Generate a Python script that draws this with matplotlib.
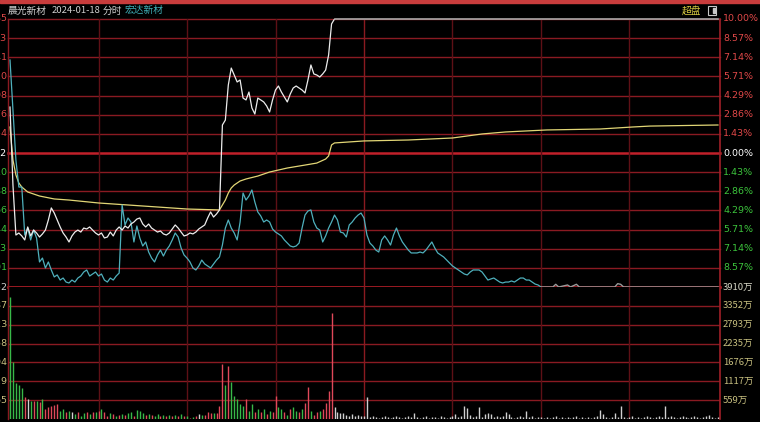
import matplotlib.pyplot as plt
from matplotlib.patches import Rectangle

# 晨光新材 2024-01-18 分时, 昨收 15.32, 对比 宏达新材
# 涨跌幅(%) 按分钟, 0 = 9:30, 120 = 11:30/13:00, 240 = 15:00
price_pct = [
    3.43, -2.39, -6.12, -5.97, -6.19, -6.49, -5.52, -6.19, -5.75, -5.97,
    -6.27, -6.04, -5.75, -5.00, -4.10, -4.48, -5.00, -5.52, -5.97, -6.27,
    -6.64, -6.19, -5.90, -5.75, -5.90, -5.60, -5.67, -5.52, -5.75, -5.97,
    -6.12, -5.97, -6.34, -6.27, -5.90, -6.19, -5.75, -5.52, -5.75, -5.45,
    -5.60, -5.30, -5.15, -4.93, -4.85, -5.30, -5.52, -5.30, -5.60, -5.75,
    -5.90, -5.82, -6.04, -6.12, -5.97, -5.67, -5.37, -5.60, -5.90, -6.19,
    -6.12, -5.97, -6.04, -5.90, -5.67, -5.52, -5.37, -4.85, -4.40, -4.78,
    -4.55, -4.25, 2.09, 2.46, 5.07, 6.34, 5.82, 5.30, 5.45, 4.10,
    3.96, 4.55, 3.36, 2.91, 4.10, 3.96, 3.81, 3.51, 3.06, 3.96,
    4.70, 5.00, 4.55, 4.18, 3.81, 4.40, 4.85, 5.00, 4.85, 4.70,
    4.48, 5.45, 6.57, 5.90, 5.82, 5.67, 5.90, 6.19, 7.31, 9.63,
    10.00,
]
limit_up_min = [110, 240]
limit_up_pct = [10.00, 10.00]

avg_min = [0, 1, 2, 3, 4, 6, 10, 15, 20, 30, 40, 50, 60, 71, 72, 73, 74, 75,
           76, 78, 80, 84, 88, 94, 100, 104, 107, 108, 109, 110, 120, 135,
           150, 160, 168, 182, 200, 211, 217, 240]
avg_pct = [1.94, -0.52, -1.64, -2.24, -2.54, -2.91, -3.21, -3.43, -3.51,
           -3.73, -3.88, -4.03, -4.18, -4.25, -3.88, -3.51, -2.99, -2.61,
           -2.39, -2.09, -1.94, -1.72, -1.42, -1.12, -0.90, -0.75, -0.45,
           -0.22, 0.60, 0.75, 0.90, 0.97, 1.12, 1.42, 1.57, 1.72, 1.79,
           1.94, 2.01, 2.09]

hd_pct = [
    6.94, 3.21, -0.52, -2.54, -2.54, -6.12, -5.60, -6.49, -5.75, -6.34,
    -8.13, -7.84, -8.58, -8.13, -8.73, -9.25, -9.10, -9.48, -9.33, -9.63,
    -9.70, -9.48, -9.63, -9.33, -9.18, -8.88, -8.73, -9.18, -9.03, -8.88,
    -9.18, -9.03, -9.48, -9.63, -9.33, -9.48, -9.18, -8.96, -3.88, -5.37,
    -4.85, -5.15, -6.64, -5.45, -6.34, -6.94, -6.64, -7.39, -7.84, -8.13,
    -7.61, -7.24, -7.69, -7.24, -6.94, -6.49, -5.97, -6.27, -7.09, -7.61,
    -7.84, -8.13, -8.58, -8.73, -8.43, -7.99, -8.28, -8.43, -8.58, -8.28,
    -7.99, -7.76, -6.87, -5.60, -5.00, -5.60, -5.97, -6.49, -5.15, -2.99,
    -3.51, -3.21, -2.76, -3.66, -4.40, -4.70, -5.15, -5.00, -5.15, -5.67,
    -5.90, -6.04, -6.19, -6.49, -6.72, -6.94, -7.01, -6.94, -6.72, -5.60,
    -4.63, -4.33, -4.25, -5.15, -5.60, -5.75, -6.64, -6.19, -5.60, -5.15,
    -4.63, -5.00, -5.90, -5.97, -6.27, -5.37, -5.15, -4.85, -4.63, -4.48,
    -4.85, -6.12, -6.72, -6.94, -7.24, -7.39, -6.49, -6.19, -6.49, -6.87,
    -6.12, -5.60, -6.19, -6.64, -6.94, -7.24, -7.46, -7.46, -7.46, -7.39,
    -7.46, -7.24, -6.94, -6.64, -7.09, -7.46, -7.61, -7.76, -7.99, -8.21,
    -8.43, -8.58, -8.73, -8.88, -9.03, -9.10, -8.88, -8.73, -8.73, -8.73,
    -8.88, -9.18, -9.48, -9.40, -9.33, -9.48, -9.63, -9.70, -9.63, -9.63,
    -9.55, -9.63, -9.48, -9.33, -9.33, -9.48, -9.48, -9.63, -9.78, -9.85,
    -10.00,
]
hd_limit_min = [180, 184, 185, 186, 189, 190, 192, 193, 205, 206, 207, 208, 240]
hd_limit_pct = [-10.00, -10.00, -9.80, -10.00, -9.85, -10.00, -9.80, -10.00,
                -10.00, -9.75, -9.80, -10.00, -10.00]

# 成交量(万), 每分钟
volume = [
    3620, 1700, 1060, 1000, 910, 650, 590, 530, 520, 530,
    500, 590, 300, 350, 380, 410, 440, 240, 290, 210,
    240, 200, 150, 200, 90, 180, 200, 150, 210, 200,
    240, 290, 200, 90, 180, 150, 90, 120, 150, 120,
    180, 210, 90, 260, 240, 180, 120, 150, 120, 90,
    150, 90, 120, 90, 120, 90, 120, 90, 150, 90,
    90, 30, 60, 90, 150, 120, 120, 200, 180, 180,
    180, 380, 1620, 1000, 1560, 1090, 680, 590, 440, 380,
    590, 240, 440, 210, 290, 200, 290, 150, 240, 200,
    680, 350, 290, 200, 120, 290, 350, 240, 200, 290,
    470, 940, 240, 120, 200, 240, 290, 470, 820, 3150,
    350, 200, 180, 180, 120, 90, 150, 90, 120, 90,
    90, 650, 60, 90, 60, 30, 60, 90, 60, 30,
    60, 90, 60, 30, 60, 90, 60, 180, 60, 30,
    60, 90, 30, 60, 60, 30, 90, 60, 30, 60,
    90, 150, 60, 90, 380, 320, 120, 60, 90, 350,
    60, 150, 180, 150, 60, 90, 60, 90, 200, 150,
    60, 30, 60, 90, 60, 240, 60, 90, 30, 60,
    60, 30, 60, 30, 60, 90, 30, 60, 30, 60,
    30, 60, 90, 30, 60, 30, 60, 30, 60, 90,
    260, 150, 60, 30, 60, 180, 60, 380, 60, 30,
    60, 90, 30, 60, 30, 60, 90, 60, 30, 60,
    90, 60, 380, 60, 90, 60, 30, 60, 90, 60,
    30, 60, 90, 60, 30, 60, 90, 120, 60, 30,
    60,
]
vol_color = ("ggggg" "rwgrgrg" "rrrrr" "ggrgw" "grggrgrgrg" "rrgrgrgrgg"
             "rgggrgrggr" "grgrgrgr" "grgrwgrrrg" "rrrgrggggg" "rggrgrgrgr"
             "rggrgrggrg" "rrgrrgrrrr") + "w" * 131

pct_levels = [10.00, 8.57, 7.14, 5.71, 4.29, 2.86, 1.43, 0.00,
              -1.43, -2.86, -4.29, -5.71, -7.14, -8.57, -10.00]
price_labels = ["16.85", "16.63", "16.41", "16.20", "15.98", "15.76", "15.54",
                "15.32", "15.10", "14.88", "14.66", "14.44", "14.23", "14.01"]
vol_levels = [3910, 3352, 2793, 2235, 1676, 1117, 559]
vol_left = ["6052", "5187", "4323", "3458", "2594", "1729", "865"]

# 标题 (文字, 左边像素位置, 颜色)
title_parts = [("晨光新材", 8, "#cfcfcf"), ("2024-01-18", 52, "#cfcfcf"),
               ("分时", 103, "#cfcfcf"), ("宏达新材", 125, "#3fb0b8")]

BG = "black"
GRID = "#8a1a22"
VGRID = "#5e1016"
RED_TXT = "#e04848"
GREEN_TXT = "#3cc43c"
VOL_TXT = "#c8c080"
CJK = ["Noto Sans CJK SC", "DejaVu Sans"]
W, H = 760, 422


def fy(y):
    return 1 - y / H


def main():
    fig = plt.figure(figsize=(7.6, 4.22), dpi=100, facecolor=BG)

    ax = fig.add_axes([8 / W, fy(287), 712 / W, (287 - 19) / H])
    axv = fig.add_axes([8 / W, fy(419), 712 / W, (419 - 287) / H])
    for a in (ax, axv):
        a.set_facecolor(BG)
        a.set_xlim(-0.68, 240.68)
        a.set_xticks([])
        a.set_yticks([])
        for s in a.spines.values():
            s.set_visible(False)
    ax.set_ylim(-10, 10)
    axv.set_ylim(0, 3910)

    # 网格
    for v in pct_levels:
        lw, c = (1.8, "#c0202a") if v == 0 else (1.0, GRID)
        ax.axhline(v, color=c, lw=lw, clip_on=False, zorder=1)
    ax.axhline(-10, color="#c0202a", lw=1.8, clip_on=False, zorder=1)
    for v in vol_levels[1:]:
        axv.axhline(v, color=GRID, lw=1.0, zorder=1)
    for m in range(30, 240, 30):
        c = "#8a1a20" if m == 120 else VGRID
        ax.axvline(m, color=c, lw=1.0, zorder=1)
        axv.axvline(m, color=c, lw=1.0, zorder=1)
    for a in (ax, axv):
        a.axvline(-0.68, color=GRID, lw=1.0, clip_on=False)
        a.axvline(240.68, color="#a02028", lw=1.2, clip_on=False)

    # 分时线
    ax.plot(avg_min, avg_pct, color="#e2d676", lw=0.9, zorder=3)
    ax.plot(range(len(hd_pct)), hd_pct, color="#4fb0bc", lw=0.9, zorder=3)
    ax.plot(hd_limit_min, hd_limit_pct, color="#9a9a9a", lw=1.0, zorder=3,
            clip_on=False)
    ax.plot(range(len(price_pct)), price_pct, color="#ececec", lw=0.9, zorder=4)
    ax.plot(limit_up_min, limit_up_pct, color="#a8a8a8", lw=1.2, zorder=4,
            clip_on=False)

    # 成交量
    cmap = {"r": "#e0485a", "g": "#38b848", "w": "#d0d0d0"}
    axv.vlines(range(len(volume)), 0, volume,
               colors=[cmap[c] for c in vol_color], lw=1.0, zorder=3)

    # 右侧刻度
    for v in pct_levels[:-1]:
        y = ax.transData.transform((0, v))[1]
        c = RED_TXT if v > 0 else ("white" if v == 0 else GREEN_TXT)
        fig.text(723 / W, y / fig.dpi / 4.22, f"{abs(v):.2f}%", color=c,
                 fontsize=6.8, va="center", ha="left")
    for i, v in enumerate(vol_levels):
        y = axv.transData.transform((0, v))[1]
        fig.text(723 / W, y / fig.dpi / 4.22, f"{v}万",
                 color="#d8d8c8" if i == 0 else VOL_TXT,
                 fontsize=6.8, va="center", ha="left", family=CJK)

    # 左侧刻度(被截断, 只露出最后一位)
    for v, s in zip(pct_levels, price_labels):
        y = ax.transData.transform((0, v))[1]
        c = RED_TXT if v > 0 else ("white" if v == 0 else GREEN_TXT)
        fig.text(7.5 / W, y / fig.dpi / 4.22, s, color=c, fontsize=6.8,
                 va="center", ha="right")
    for v, s in zip(vol_levels, vol_left):
        y = axv.transData.transform((0, v))[1]
        fig.text(7.5 / W, y / fig.dpi / 4.22, s,
                 color="#d0d0d0" if v == 3910 else VOL_TXT,
                 fontsize=6.8, va="center", ha="right")

    # 顶部
    fig.patches.append(Rectangle((0, fy(2.5)), 1, 2.5 / H, transform=fig.transFigure,
                                 color="#c83c3c", zorder=0))
    for s, x, c in title_parts:
        fs = 6.8 if s[0].isdigit() else 7.0
        fig.text(x / W, fy(10.5), s, color=c, fontsize=fs,
                 va="center", ha="left", family=CJK)
    fig.text(682 / W, fy(10.5), "超盘", color="#d6c840",
             fontsize=7.0, va="center", ha="left", family=CJK)
    fig.patches.append(Rectangle((708 / W, fy(15)), 8 / W, 9 / H,
                                 transform=fig.transFigure, fill=False,
                                 edgecolor="#c8c8c8", lw=0.8))
    fig.patches.append(Rectangle((713 / W, fy(13)), 2 / W, 5 / H,
                                 transform=fig.transFigure, color="#c8c8c8"))

    fig.savefig("out.png", dpi=100, facecolor=BG)


if __name__ == "__main__":
    main()
